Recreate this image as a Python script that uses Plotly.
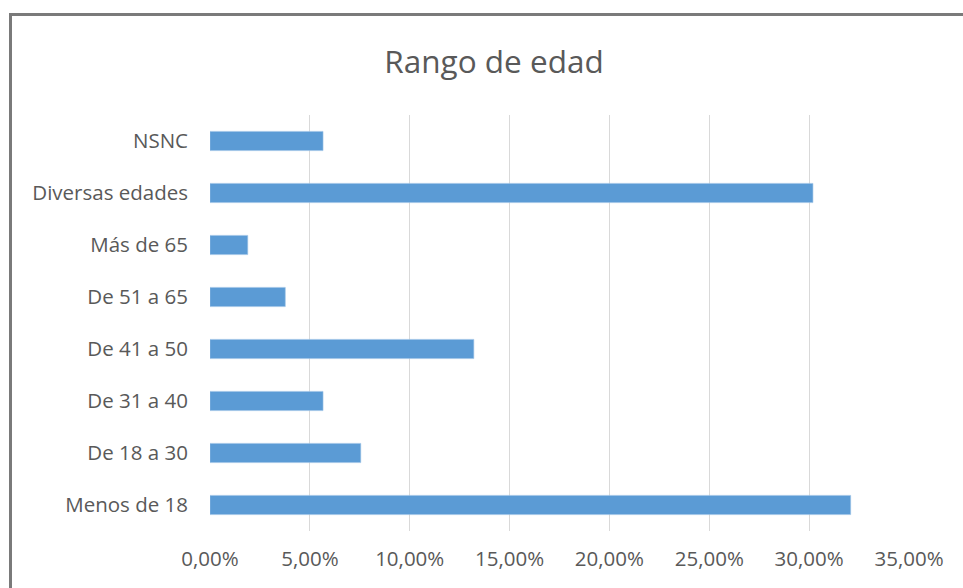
import plotly.graph_objects as go

categories = ["Menos de 18", "De 18 a 30", "De 31 a 40", "De 41 a 50",
              "De 51 a 65", "Más de 65", "Diversas edades", "NSNC"]
values = [0.3208, 0.0755, 0.0566, 0.1321, 0.0377, 0.0189, 0.3019, 0.0566]
tick_vals = [0, 0.05, 0.10, 0.15, 0.20, 0.25, 0.30, 0.35]
tick_text = ["0,00%", "5,00%", "10,00%", "15,00%", "20,00%", "25,00%", "30,00%", "35,00%"]
title_text = "Rango de edad"

W, H = 963, 588
L, R, T, B = 210, 54, 115, 57
pw, ph = W - L - R, H - T - B

def px(x):
    return (x - L) / pw

def py(y):
    return (H - B - y) / ph

fig = go.Figure(go.Bar(
    x=values, y=categories, orientation="h",
    marker=dict(color="#5b9bd5", line=dict(color="#9dc3e6", width=0.6)),
    width=0.37,
))

fig.update_layout(
    width=W, height=H,
    margin=dict(l=L, r=R, t=T, b=B),
    paper_bgcolor="white", plot_bgcolor="white",
    font=dict(family="Open Sans, Noto Sans, sans-serif", color="#595959"),
    title=dict(text=title_text, x=494 / W, xanchor="center",
               y=1 - 62 / H, yanchor="middle",
               font=dict(size=31.5, color="#595959", family="Open Sans, sans-serif")),
    showlegend=False,
    xaxis=dict(range=[0, 0.35], tickvals=tick_vals, ticktext=tick_text,
               showgrid=True, gridcolor="#d9d9d9", gridwidth=1,
               zeroline=False, showline=False, ticks="",
               tickfont=dict(size=20.5, color="#595959"), ticklabelstandoff=13),
    yaxis=dict(showgrid=False, zeroline=False, showline=False, ticks="",
               tickfont=dict(size=20.5, color="#595959"), ticklabelstandoff=21),
    shapes=[dict(type="rect", xref="paper", yref="paper",
                 x0=px(10.5), x1=px(1000), y0=py(640), y1=py(14.5),
                 line=dict(color="#7a7a7a", width=3), fillcolor="rgba(0,0,0,0)",
                 layer="above")],
)

fig.write_html("out.html", config={"displayModeBar": False},
               post_script="document.body.style.margin='0';document.body.style.overflow='hidden';")
